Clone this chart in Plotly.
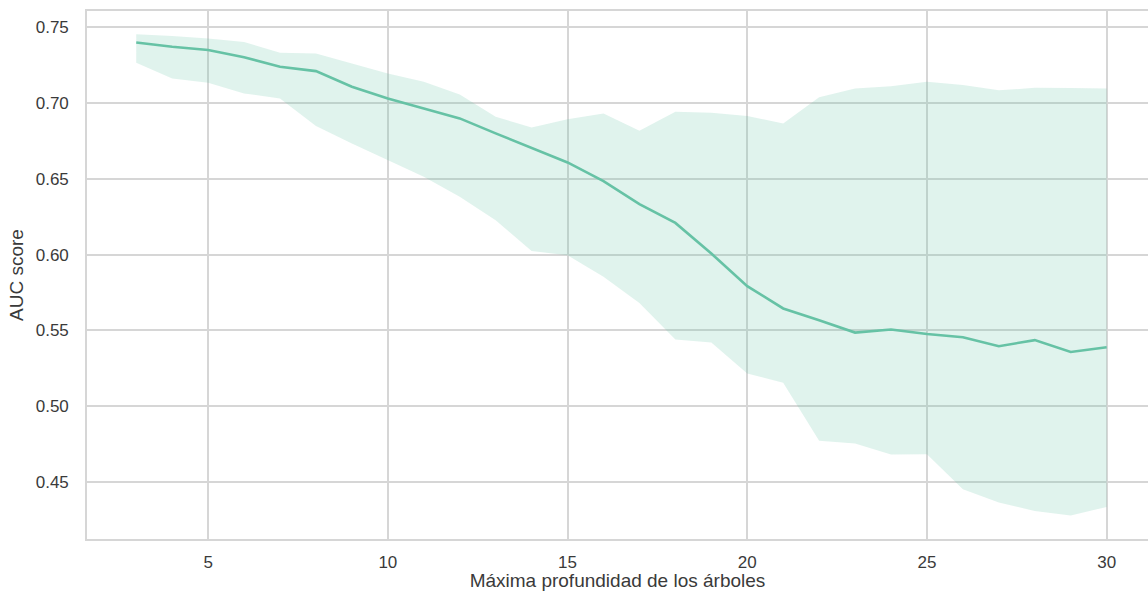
import plotly.graph_objects as go

# Maximum tree depth evaluated
depth = list(range(3, 31))

# Mean AUC per depth
auc_mean = [0.7400, 0.7372, 0.7350, 0.7302, 0.7240, 0.7211, 0.7108, 0.7030,
            0.6965, 0.6899, 0.6800, 0.6705, 0.6608, 0.6485, 0.6333, 0.6209,
            0.6007, 0.5791, 0.5644, 0.5567, 0.5485, 0.5505, 0.5476, 0.5454,
            0.5395, 0.5435, 0.5357, 0.5388]

# Upper edge of the confidence band
auc_upper = [0.7454, 0.7443, 0.7427, 0.7403, 0.7332, 0.7328, 0.7262, 0.7196,
             0.7141, 0.7057, 0.6910, 0.6839, 0.6894, 0.6932, 0.6817, 0.6943,
             0.6936, 0.6914, 0.6866, 0.7038, 0.7097, 0.7112, 0.7141, 0.7119,
             0.7084, 0.7101, 0.7099, 0.7097]

# Lower edge of the confidence band
auc_lower = [0.7266, 0.7163, 0.7134, 0.7064, 0.7031, 0.6848, 0.6734, 0.6623,
             0.6513, 0.6381, 0.6227, 0.6024, 0.5996, 0.5853, 0.5680, 0.5439,
             0.5419, 0.5215, 0.5153, 0.4770, 0.4752, 0.4680, 0.4682, 0.4450,
             0.4363, 0.4307, 0.4277, 0.4334]

x_ticks = [5, 10, 15, 20, 25, 30]
y_ticks = [0.45, 0.50, 0.55, 0.60, 0.65, 0.70, 0.75]

line_color = "#66c2a5"
band_color = "rgba(102,194,165,0.2)"
grid_color = "#d6d6d6"
text_color = "#3a3a3a"
font_family = "Liberation Sans, Arial, sans-serif"

fig = go.Figure()
fig.add_trace(go.Scatter(x=depth, y=auc_lower, mode="lines",
                         line=dict(width=0), hoverinfo="skip", showlegend=False))
fig.add_trace(go.Scatter(x=depth, y=auc_upper, mode="lines", fill="tonexty",
                         fillcolor=band_color, line=dict(width=0),
                         hoverinfo="skip", showlegend=False))
fig.add_trace(go.Scatter(x=depth, y=auc_mean, mode="lines",
                         line=dict(color=line_color, width=2.6), showlegend=False))

fig.update_layout(
    width=1148, height=591,
    margin=dict(l=87, r=0, t=11, b=52),
    paper_bgcolor="white", plot_bgcolor="white",
    font=dict(family=font_family, color=text_color, size=17),
    xaxis=dict(
        range=[1.63, 31.15], tickvals=x_ticks, ticktext=[str(v) for v in x_ticks],
        showgrid=True, gridcolor=grid_color, gridwidth=1.6,
        showline=True, linecolor=grid_color, linewidth=1.6, mirror=True,
        zeroline=False, ticks="", ticklabelstandoff=7,
        tickfont=dict(size=17),
        title=dict(text="Máxima profundidad de los árboles", font=dict(size=19), standoff=4),
    ),
    yaxis=dict(
        range=[0.4122, 0.7608], tickvals=y_ticks, ticktext=[f"{v:.2f}" for v in y_ticks],
        showgrid=True, gridcolor=grid_color, gridwidth=1.6,
        showline=True, linecolor=grid_color, linewidth=1.6, mirror=False,
        zeroline=False, ticks="", ticklabelstandoff=13,
        tickfont=dict(size=17),
        title=dict(text="AUC score", font=dict(size=19), standoff=7),
    ),
)

fig.write_html("out.html")
